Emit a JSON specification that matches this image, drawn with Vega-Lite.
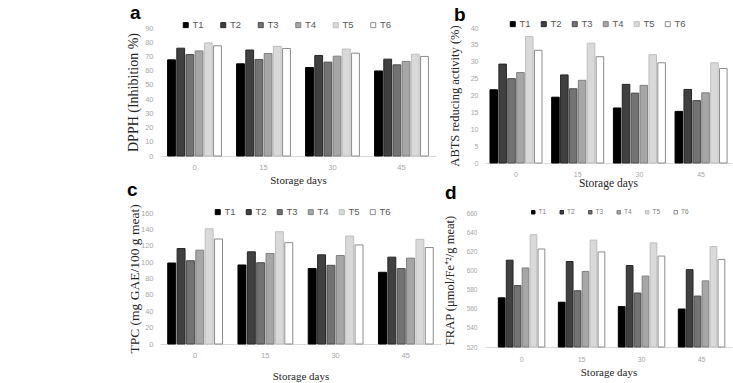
{
  "$schema": "https://vega.github.io/schema/vega-lite/v6.json",
  "autosize": "none",
  "padding": {"left": 160, "top": 28, "right": 573, "bottom": 355},
  "background": "white",
  "config": {
    "view": {"stroke": null},
    "axis": {"grid": false, "ticks": false, "labelFont": "Liberation Sans", "labelColor": "#a6a6a6", "titleFont": "Liberation Serif", "titleFontWeight": "normal", "titleColor": "#262626"},
    "axisX": {"labelAngle": 0, "domainColor": "#d9d9d9", "domainWidth": 1},
    "axisY": {"domain": false},
    "legend": {"padding": 0, "labelFont": "Liberation Sans", "symbolType": "square", "symbolStrokeWidth": 1, "title": null},
    "title": {"font": "Liberation Sans", "fontWeight": "bold", "color": "#000000", "anchor": "start", "frame": "group", "baseline": "alphabetic"}
  },
  "datasets": {
    "dpph": [
      {"day": "0", "t": "T1", "v": 67.6}, {"day": "0", "t": "T2", "v": 75.8}, {"day": "0", "t": "T3", "v": 71.3}, {"day": "0", "t": "T4", "v": 73.9}, {"day": "0", "t": "T5", "v": 79.5}, {"day": "0", "t": "T6", "v": 77.5},
      {"day": "15", "t": "T1", "v": 64.8}, {"day": "15", "t": "T2", "v": 74.5}, {"day": "15", "t": "T3", "v": 67.9}, {"day": "15", "t": "T4", "v": 72.1}, {"day": "15", "t": "T5", "v": 77.1}, {"day": "15", "t": "T6", "v": 75.6},
      {"day": "30", "t": "T1", "v": 62.2}, {"day": "30", "t": "T2", "v": 70.7}, {"day": "30", "t": "T3", "v": 66.0}, {"day": "30", "t": "T4", "v": 70.2}, {"day": "30", "t": "T5", "v": 75.2}, {"day": "30", "t": "T6", "v": 72.3},
      {"day": "45", "t": "T1", "v": 59.8}, {"day": "45", "t": "T2", "v": 68.1}, {"day": "45", "t": "T3", "v": 64.1}, {"day": "45", "t": "T4", "v": 66.5}, {"day": "45", "t": "T5", "v": 71.6}, {"day": "45", "t": "T6", "v": 70.0}
    ],
    "abts": [
      {"day": "0", "t": "T1", "v": 21.7}, {"day": "0", "t": "T2", "v": 29.3}, {"day": "0", "t": "T3", "v": 25.0}, {"day": "0", "t": "T4", "v": 26.8}, {"day": "0", "t": "T5", "v": 37.5}, {"day": "0", "t": "T6", "v": 33.4},
      {"day": "15", "t": "T1", "v": 19.5}, {"day": "15", "t": "T2", "v": 26.1}, {"day": "15", "t": "T3", "v": 22.0}, {"day": "15", "t": "T4", "v": 24.5}, {"day": "15", "t": "T5", "v": 35.5}, {"day": "15", "t": "T6", "v": 31.5},
      {"day": "30", "t": "T1", "v": 16.3}, {"day": "30", "t": "T2", "v": 23.3}, {"day": "30", "t": "T3", "v": 20.7}, {"day": "30", "t": "T4", "v": 23.0}, {"day": "30", "t": "T5", "v": 32.1}, {"day": "30", "t": "T6", "v": 29.7},
      {"day": "45", "t": "T1", "v": 15.3}, {"day": "45", "t": "T2", "v": 21.8}, {"day": "45", "t": "T3", "v": 18.5}, {"day": "45", "t": "T4", "v": 20.8}, {"day": "45", "t": "T5", "v": 29.7}, {"day": "45", "t": "T6", "v": 28.0}
    ],
    "tpc": [
      {"day": "0", "t": "T1", "v": 98.9}, {"day": "0", "t": "T2", "v": 116.6}, {"day": "0", "t": "T3", "v": 101.7}, {"day": "0", "t": "T4", "v": 114.6}, {"day": "0", "t": "T5", "v": 140.7}, {"day": "0", "t": "T6", "v": 128.2},
      {"day": "15", "t": "T1", "v": 96.5}, {"day": "15", "t": "T2", "v": 112.6}, {"day": "15", "t": "T3", "v": 99.3}, {"day": "15", "t": "T4", "v": 110.6}, {"day": "15", "t": "T5", "v": 137.1}, {"day": "15", "t": "T6", "v": 123.8},
      {"day": "30", "t": "T1", "v": 92.1}, {"day": "30", "t": "T2", "v": 108.9}, {"day": "30", "t": "T3", "v": 96.1}, {"day": "30", "t": "T4", "v": 108.1}, {"day": "30", "t": "T5", "v": 131.9}, {"day": "30", "t": "T6", "v": 121.0},
      {"day": "45", "t": "T1", "v": 87.6}, {"day": "45", "t": "T2", "v": 106.1}, {"day": "45", "t": "T3", "v": 92.1}, {"day": "45", "t": "T4", "v": 104.9}, {"day": "45", "t": "T5", "v": 127.8}, {"day": "45", "t": "T6", "v": 117.8}
    ],
    "frap": [
      {"day": "0", "t": "T1", "v": 571.4}, {"day": "0", "t": "T2", "v": 610.7}, {"day": "0", "t": "T3", "v": 584.2}, {"day": "0", "t": "T4", "v": 602.6}, {"day": "0", "t": "T5", "v": 637.3}, {"day": "0", "t": "T6", "v": 622.4},
      {"day": "15", "t": "T1", "v": 566.8}, {"day": "15", "t": "T2", "v": 609.3}, {"day": "15", "t": "T3", "v": 578.8}, {"day": "15", "t": "T4", "v": 599.0}, {"day": "15", "t": "T5", "v": 631.7}, {"day": "15", "t": "T6", "v": 619.3},
      {"day": "30", "t": "T1", "v": 562.2}, {"day": "30", "t": "T2", "v": 605.1}, {"day": "30", "t": "T3", "v": 576.4}, {"day": "30", "t": "T4", "v": 594.1}, {"day": "30", "t": "T5", "v": 628.8}, {"day": "30", "t": "T6", "v": 615.0},
      {"day": "45", "t": "T1", "v": 559.7}, {"day": "45", "t": "T2", "v": 600.8}, {"day": "45", "t": "T3", "v": 573.2}, {"day": "45", "t": "T4", "v": 589.1}, {"day": "45", "t": "T5", "v": 624.9}, {"day": "45", "t": "T6", "v": 611.5}
    ]
  },
  "bounds": "flush",
  "align": "none",
  "columns": 2,
  "spacing": {"row": 50, "column": 44},
  "resolve": {"scale": {"x": "independent", "y": "independent", "xOffset": "independent"}, "legend": {"fill": "independent", "stroke": "independent"}},
  "concat": [
    {
      "data": {"name": "dpph"},
      "width": 276, "height": 128,
      "title": {"text": "a", "fontSize": 19, "dx": -30, "dy": 3, "offset": 0},
      "mark": {"type": "bar", "strokeWidth": 1},
      "encoding": {
        "x": {"field": "day", "type": "nominal", "sort": ["0", "15", "30", "45"], "scale": {"paddingInner": 0.22, "paddingOuter": 0.11},
          "axis": {"title": "Storage days", "labelFontSize": 7.5, "labelPadding": 7, "titleFontSize": 11, "titlePadding": 4}},
        "xOffset": {"field": "t", "type": "nominal", "sort": ["T1", "T2", "T3", "T4", "T5", "T6"], "scale": {"paddingInner": 0.15, "paddingOuter": 0}},
        "y": {"field": "v", "type": "quantitative", "scale": {"domain": [0, 90]},
          "axis": {"title": "DPPH (Inhibition %)", "values": [0, 10, 20, 30, 40, 50, 60, 70, 80, 90], "labelFontSize": 7.5, "labelPadding": 7, "titleFontSize": 14, "titlePadding": 4}},
        "fill": {"field": "t", "type": "nominal", "scale": {"domain": ["T1", "T2", "T3", "T4", "T5", "T6"], "range": ["#000000", "#404040", "#737373", "#a6a6a6", "#d9d9d9", "#ffffff"]},
          "legend": {"orient": "none", "direction": "horizontal", "legendX": 21, "legendY": -8, "symbolSize": 25, "labelFontSize": 9.5, "labelColor": "#595959", "labelOffset": 2, "columnPadding": 14.5}},
        "stroke": {"field": "t", "type": "nominal", "scale": {"domain": ["T1", "T2", "T3", "T4", "T5", "T6"], "range": ["#000000", "#262626", "#4d4d4d", "#808080", "#bfbfbf", "#8c8c8c"]},
          "legend": {"orient": "none", "direction": "horizontal", "legendX": 21, "legendY": -8, "symbolSize": 25, "labelFontSize": 9.5, "labelColor": "#595959", "labelOffset": 2, "columnPadding": 14.5}}
      }
    },
    {
      "data": {"name": "abts"},
      "width": 246, "height": 135,
      "title": {"text": "b", "fontSize": 19, "dx": -31, "dy": 6, "offset": 0},
      "mark": {"type": "bar", "strokeWidth": 1},
      "encoding": {
        "x": {"field": "day", "type": "nominal", "sort": ["0", "15", "30", "45"], "scale": {"paddingInner": 0.157, "paddingOuter": 0.072, "align": 0.56},
          "axis": {"title": "Storage days", "labelFontSize": 7, "labelPadding": 7, "titleFontSize": 11.5, "titlePadding": 0}},
        "xOffset": {"field": "t", "type": "nominal", "sort": ["T1", "T2", "T3", "T4", "T5", "T6"], "scale": {"paddingInner": 0.15, "paddingOuter": 0}},
        "y": {"field": "v", "type": "quantitative", "scale": {"domain": [0, 40]},
          "axis": {"title": "ABTS reducing activity  (%)", "values": [0, 5, 10, 15, 20, 25, 30, 35, 40], "labelFontSize": 7, "labelPadding": 7, "titleFontSize": 12.5, "titlePadding": 9}},
        "fill": {"field": "t", "type": "nominal", "scale": {"domain": ["T1", "T2", "T3", "T4", "T5", "T6"], "range": ["#000000", "#404040", "#737373", "#a6a6a6", "#d9d9d9", "#ffffff"]},
          "legend": {"orient": "none", "direction": "horizontal", "legendX": 23, "legendY": -9, "symbolSize": 25, "labelFontSize": 9.5, "labelColor": "#595959", "labelOffset": 2, "columnPadding": 8}},
        "stroke": {"field": "t", "type": "nominal", "scale": {"domain": ["T1", "T2", "T3", "T4", "T5", "T6"], "range": ["#000000", "#262626", "#4d4d4d", "#808080", "#bfbfbf", "#8c8c8c"]},
          "legend": {"orient": "none", "direction": "horizontal", "legendX": 23, "legendY": -9, "symbolSize": 25, "labelFontSize": 9.5, "labelColor": "#595959", "labelOffset": 2, "columnPadding": 8}}
      }
    },
    {
      "data": {"name": "tpc"},
      "width": 281, "height": 131,
      "title": {"text": "c", "fontSize": 19, "dx": -33, "dy": -4, "offset": 0},
      "mark": {"type": "bar", "strokeWidth": 1},
      "encoding": {
        "x": {"field": "day", "type": "nominal", "sort": ["0", "15", "30", "45"], "scale": {"paddingInner": 0.22, "paddingOuter": 0.11},
          "axis": {"title": "Storage days", "labelFontSize": 7.5, "labelPadding": 7, "titleFontSize": 11, "titlePadding": 12}},
        "xOffset": {"field": "t", "type": "nominal", "sort": ["T1", "T2", "T3", "T4", "T5", "T6"], "scale": {"paddingInner": 0.15, "paddingOuter": 0}},
        "y": {"field": "v", "type": "quantitative", "scale": {"domain": [0, 160]},
          "axis": {"title": "TPC (mg GAE/100 g meat)", "values": [0, 20, 40, 60, 80, 100, 120, 140, 160], "labelFontSize": 7.5, "labelPadding": 7, "titleFontSize": 13.5, "titlePadding": -1}},
        "fill": {"field": "t", "type": "nominal", "scale": {"domain": ["T1", "T2", "T3", "T4", "T5", "T6"], "range": ["#000000", "#404040", "#737373", "#a6a6a6", "#d9d9d9", "#ffffff"]},
          "legend": {"orient": "none", "direction": "horizontal", "legendX": 53, "legendY": -6, "symbolSize": 25, "labelFontSize": 9.5, "labelColor": "#595959", "labelOffset": 2, "columnPadding": 8}},
        "stroke": {"field": "t", "type": "nominal", "scale": {"domain": ["T1", "T2", "T3", "T4", "T5", "T6"], "range": ["#000000", "#262626", "#4d4d4d", "#808080", "#bfbfbf", "#8c8c8c"]},
          "legend": {"orient": "none", "direction": "horizontal", "legendX": 53, "legendY": -6, "symbolSize": 25, "labelFontSize": 9.5, "labelColor": "#595959", "labelOffset": 2, "columnPadding": 8}}
      }
    },
    {
      "data": {"name": "frap"},
      "width": 247, "height": 134,
      "title": {"text": "d", "fontSize": 19, "dx": -40, "dy": -6, "offset": 0},
      "mark": {"type": "bar", "strokeWidth": 1},
      "encoding": {
        "x": {"field": "day", "type": "nominal", "sort": ["0", "15", "30", "45"], "scale": {"paddingInner": 0.225, "paddingOuter": 0.171, "align": 0.65},
          "axis": {"title": "Storage days", "labelFontSize": 7, "labelPadding": 8, "titleFontSize": 11, "titlePadding": 4}},
        "xOffset": {"field": "t", "type": "nominal", "sort": ["T1", "T2", "T3", "T4", "T5", "T6"], "scale": {"paddingInner": 0.15, "paddingOuter": 0}},
        "y": {"field": "v", "type": "quantitative", "scale": {"domain": [520, 660], "zero": false},
          "axis": {"title": "FRAP (μmol/Fe⁺²/g meat)", "values": [520, 540, 560, 580, 600, 620, 640, 660], "labelFontSize": 6.5, "labelPadding": 8, "titleFontSize": 12.5, "titlePadding": 10}},
        "y2": {"datum": 520},
        "fill": {"field": "t", "type": "nominal", "scale": {"domain": ["T1", "T2", "T3", "T4", "T5", "T6"], "range": ["#000000", "#404040", "#737373", "#a6a6a6", "#d9d9d9", "#ffffff"]},
          "legend": {"orient": "none", "direction": "horizontal", "legendX": 45, "legendY": -4, "symbolSize": 12, "labelFontSize": 6.5, "labelColor": "#7f7f7f", "labelOffset": 2, "columnPadding": 10.5}},
        "stroke": {"field": "t", "type": "nominal", "scale": {"domain": ["T1", "T2", "T3", "T4", "T5", "T6"], "range": ["#000000", "#262626", "#4d4d4d", "#808080", "#bfbfbf", "#8c8c8c"]},
          "legend": {"orient": "none", "direction": "horizontal", "legendX": 45, "legendY": -4, "symbolSize": 12, "labelFontSize": 6.5, "labelColor": "#7f7f7f", "labelOffset": 2, "columnPadding": 10.5}}
      }
    }
  ]
}
